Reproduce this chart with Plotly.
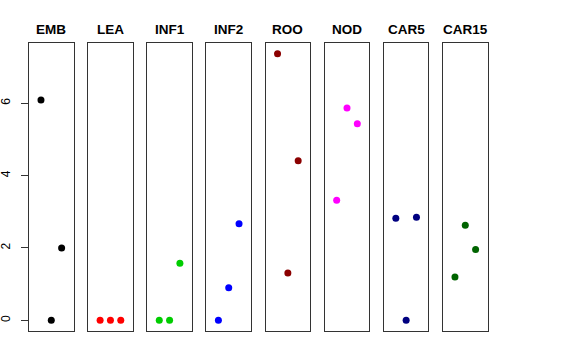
import plotly.graph_objects as go

groups = ["EMB", "LEA", "INF1", "INF2", "ROO", "NOD", "CAR5", "CAR15"]
colors = ["#000000", "#FF0000", "#00CD00", "#0000FF", "#8B0000", "#FF00FF", "#000080", "#006400"]
positions = [1, 2, 3]
values = {
    "EMB": [6.09, 0.0, 2.00],
    "LEA": [0.0, 0.0, 0.0],
    "INF1": [0.0, 0.0, 1.58],
    "INF2": [0.0, 0.90, 2.67],
    "ROO": [7.37, 1.31, 4.41],
    "NOD": [3.32, 5.87, 5.43],
    "CAR5": [2.82, 0.0, 2.85],
    "CAR15": [1.20, 2.63, 1.96],
}
y_ticks = [0, 2, 4, 6]

W, H = 576, 360
left0, step, pw = 29.0, 59.14, 44.6
top, bottom = 43.0, 331.0
ymin, ymax = 0.0, 7.37
pad = (ymax - ymin) * 0.04

fig = go.Figure()
layout = dict(width=W, height=H, margin=dict(l=0, r=0, t=0, b=0, autoexpand=False),
              paper_bgcolor="white", plot_bgcolor="white", showlegend=False,
              font=dict(family="Liberation Sans, Arial, sans-serif", color="black"))
annotations = []
for i, g in enumerate(groups):
    n = "" if i == 0 else str(i + 1)
    xa, ya = "x" + n, "y" + n
    fig.add_trace(go.Scatter(x=positions, y=values[g], mode="markers",
                             marker=dict(color=colors[i], size=7),
                             xaxis=xa, yaxis=ya, hoverinfo="skip"))
    l = left0 + i * step
    layout["xaxis" + n] = dict(domain=[l / W, (l + pw) / W], range=[-0.16, 4.16],
                               showgrid=False, zeroline=False, showticklabels=False,
                               ticks="", showline=True, mirror=True, linecolor="#333333",
                               linewidth=1, fixedrange=True, automargin=False)
    ycfg = dict(domain=[(H - bottom) / H, (H - top) / H], range=[ymin - pad, ymax + pad],
                showgrid=False, zeroline=False, showline=True, mirror=True,
                linecolor="#333333", linewidth=1, anchor=xa, fixedrange=True,
                automargin=False)
    if i == 0:
        ycfg.update(tickvals=y_ticks, ticktext=[str(v) for v in y_ticks], ticks="outside",
                    ticklen=7, tickcolor="#333333", tickangle=-90,
                    tickfont=dict(size=12, color="black"), ticklabelstandoff=6)
    else:
        ycfg.update(showticklabels=False, ticks="")
    layout["yaxis" + n] = ycfg
    layout["xaxis" + n]["anchor"] = ya
    annotations.append(dict(text="<b>" + g + "</b>", x=(l + pw / 2) / W, y=(H - 29) / H,
                            xref="paper", yref="paper", showarrow=False,
                            xanchor="center", yanchor="middle",
                            font=dict(size=13.5, color="black")))
layout["annotations"] = annotations
fig.update_layout(**layout)
fig.write_html("out.html", config={"displayModeBar": False},
               post_script="document.body.style.margin='0';document.body.style.padding='0';")
